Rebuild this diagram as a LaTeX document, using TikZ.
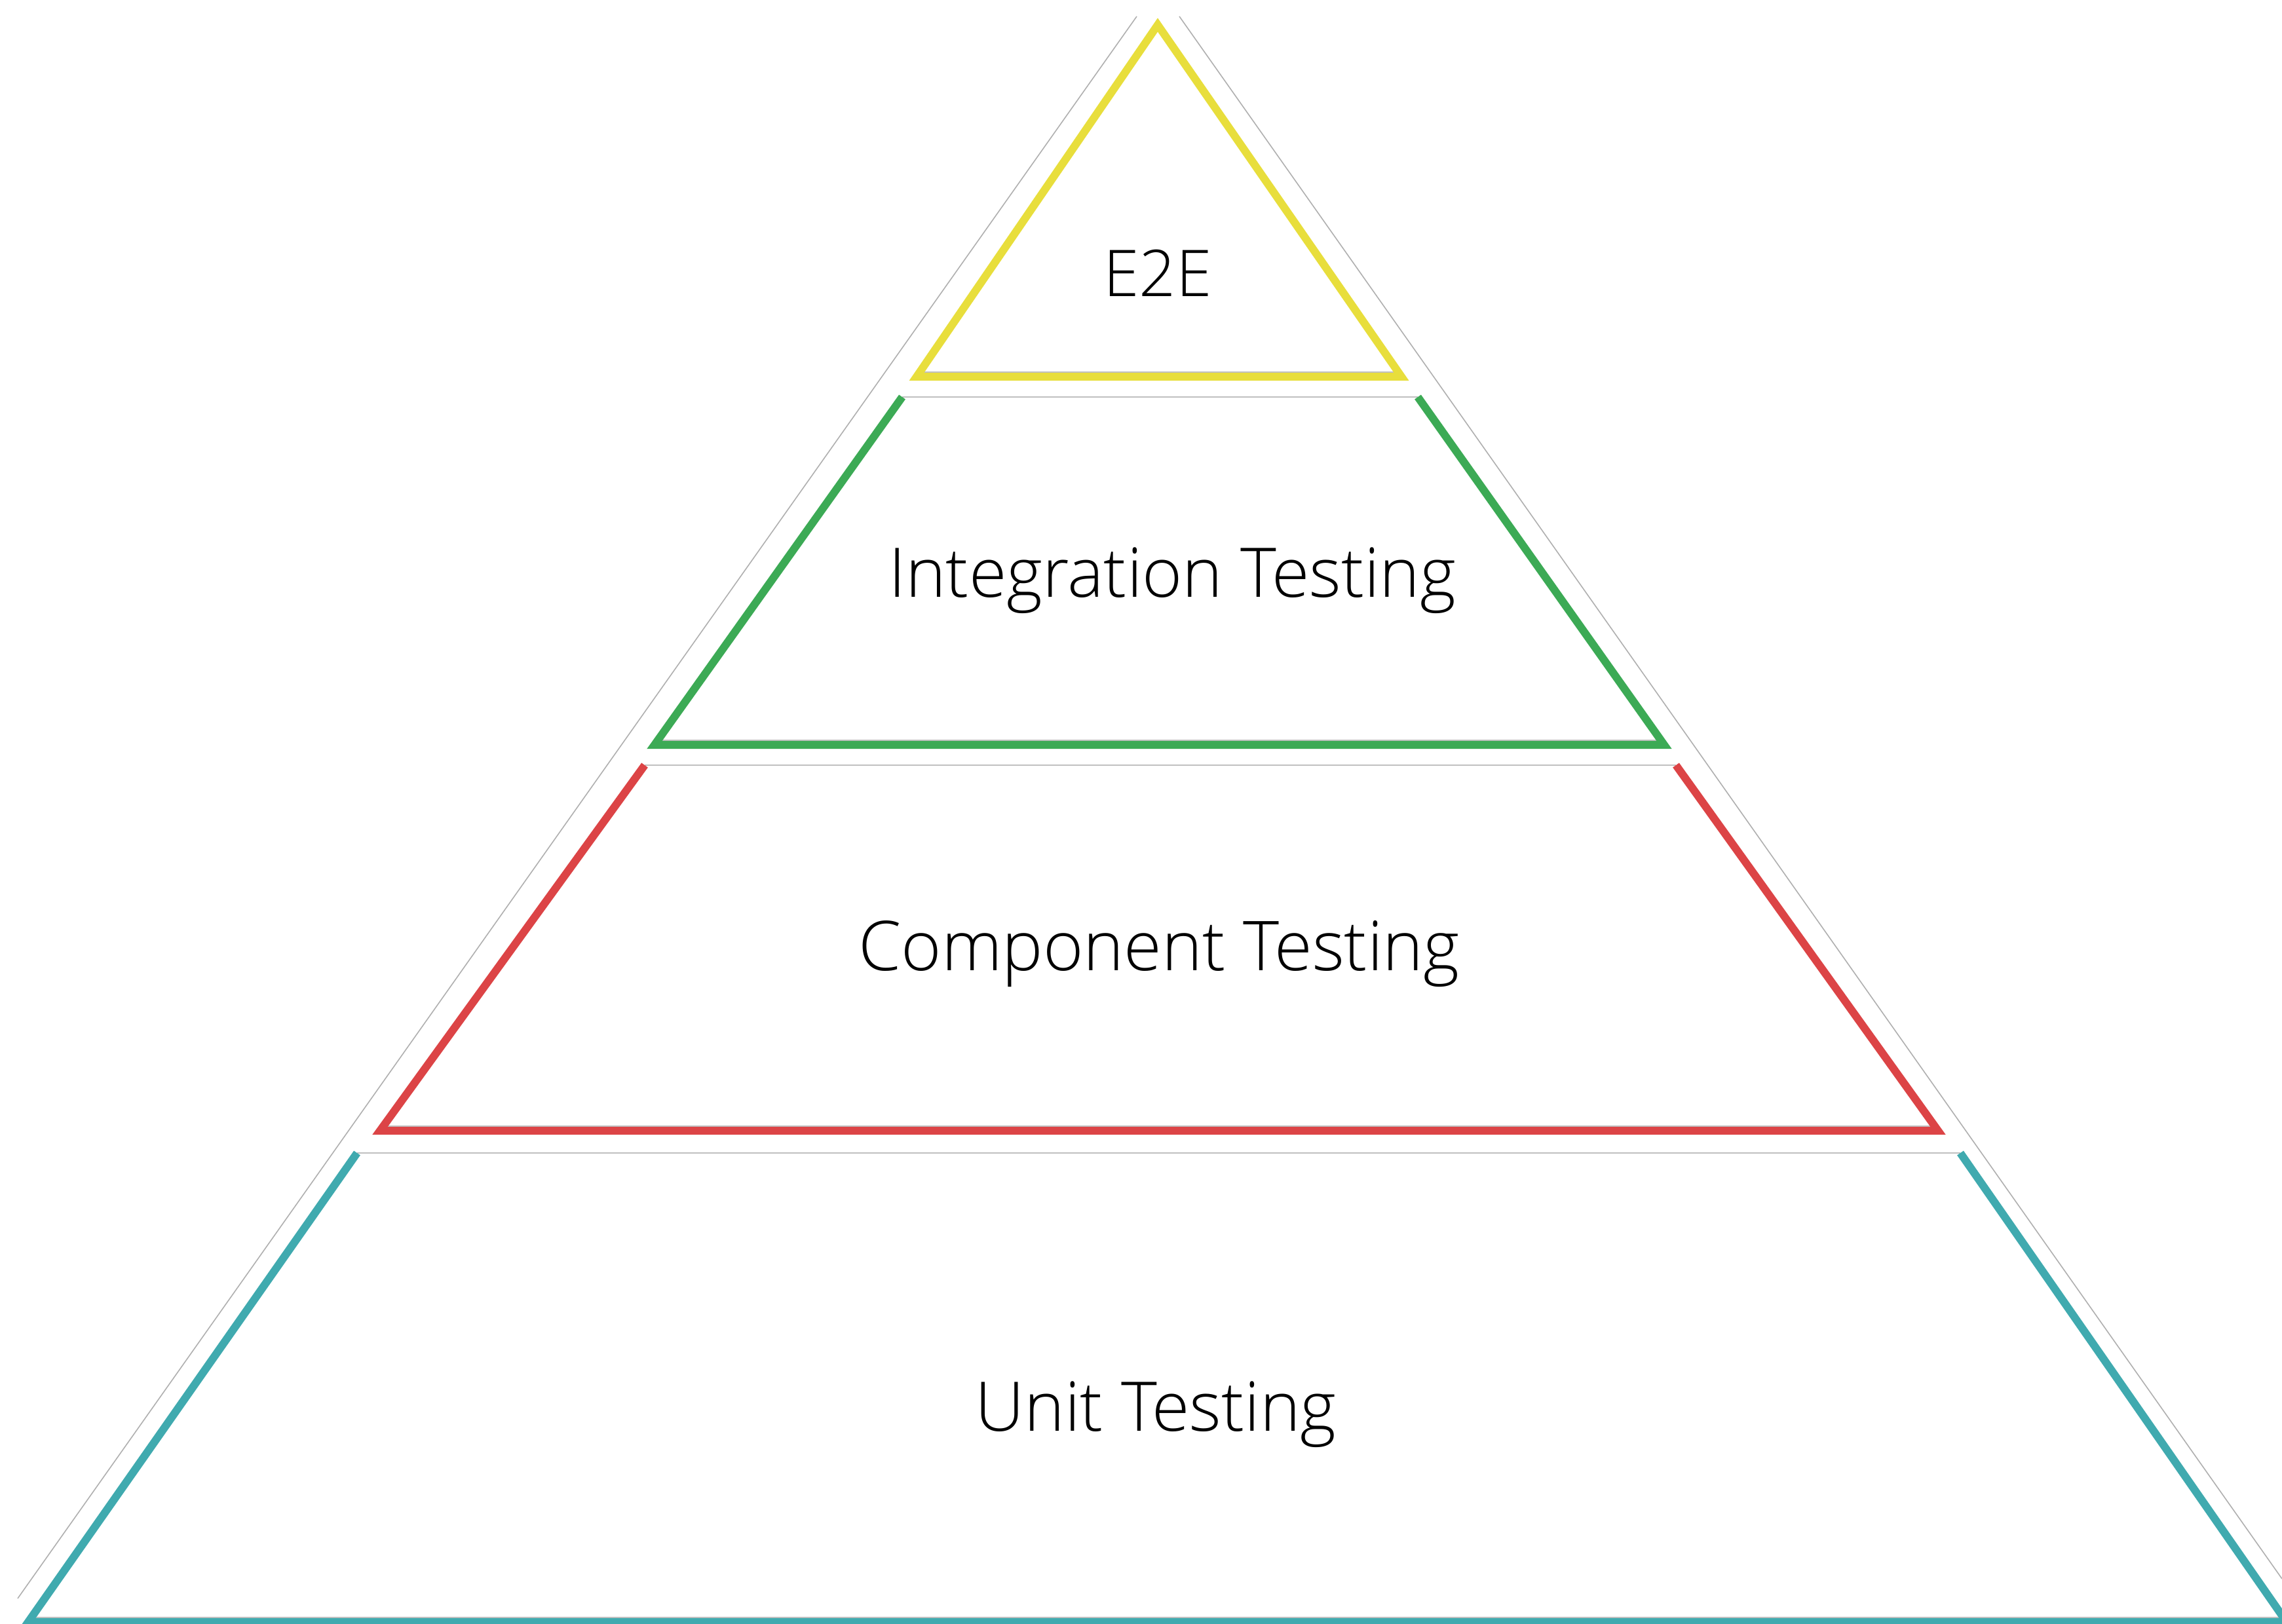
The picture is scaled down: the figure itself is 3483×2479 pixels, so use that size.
\documentclass[tikz,border=0pt]{standalone}
\usepackage{fontspec}
\usepackage{graphicx}
\IfFontExistsTF{Open Sans Light}{\setmainfont{Open Sans Light}}{\setmainfont{Carlito}}
\definecolor{pyel}{RGB}{232,222,60}
\definecolor{pgrn}{RGB}{60,170,85}
\definecolor{pred}{RGB}{220,68,70}
\definecolor{ptea}{RGB}{64,170,175}
\definecolor{lgrey}{RGB}{192,192,192}
\definecolor{ogrey}{RGB}{175,175,175}
\newcommand{\pyrtext}[2]{\resizebox{#1pt}{!}{\fontsize{100}{120}\selectfont #2}}
\begin{document}
\begin{tikzpicture}[x=1pt,y=-1pt,
  band/.style={line width=12pt, line join=miter, miter limit=10},
  gline/.style={draw=lgrey, line width=2.5pt},
  oline/.style={draw=ogrey, line width=1.6pt},
  lbl/.style={anchor=base, inner sep=0pt}]
\useasboundingbox (0,0) rectangle (3483,2479);
% outer grey outline
\coordinate (ol1) at (1735,25); \coordinate (ol2) at (27,2440);
\coordinate (or1) at (1800,25); \coordinate (or2) at (3483,2410);
\draw[oline] (ol1) -- (ol2);
\draw[oline] (or1) -- (or2);
% level corner coordinates (stroke centre lines)
\coordinate (yA) at (1767,38); \coordinate (yL) at (1399,575); \coordinate (yR) at (2139,575);
\coordinate (gTL) at (1377,606); \coordinate (gTR) at (2164,606);
\coordinate (gBL) at (999,1137); \coordinate (gBR) at (2540,1137);
\coordinate (rTL) at (984,1168); \coordinate (rTR) at (2558,1168);
\coordinate (rBL) at (580,1726); \coordinate (rBR) at (2958,1726);
\coordinate (tTL) at (545,1760); \coordinate (tTR) at (2992,1760);
\coordinate (tBL) at (43,2476); \coordinate (tBR) at (3490,2476);
% grey separator lines (drawn below coloured strokes)
\draw[gline] (gTL) -- (gTR);
\draw[gline] (rTL) -- (rTR);
\draw[gline] (tTL) -- (tTR);
\draw[gline] (1404,568) -- (2134,568);
\draw[gline] (1004,1130) -- (2536,1130);
\draw[gline] (585,1719) -- (2953,1719);
\draw[gline] (48,2469) -- (3483,2469);
% coloured bands
\draw[band, draw=pyel] (yA) -- (yR) -- (yL) -- cycle;
\draw[band, draw=pgrn] (gTL) -- (gBL) -- (gBR) -- (gTR);
\draw[band, draw=pred] (rTL) -- (rBL) -- (rBR) -- (rTR);
\draw[band, draw=ptea] (tTL) -- (tBL) -- (tBR) -- (tTR);
% labels
\node[lbl] (e2e) at (1767,452) {\pyrtext{165}{E2E}};
\node[lbl] (integ) at (1789,911) {\pyrtext{866}{Integration Testing}};
\node[lbl] (comp) at (1769,1481) {\pyrtext{917}{Component Testing}};
\node[lbl] (unit) at (1764,2184) {\pyrtext{551}{Unit Testing}};
\end{tikzpicture}
\end{document}
